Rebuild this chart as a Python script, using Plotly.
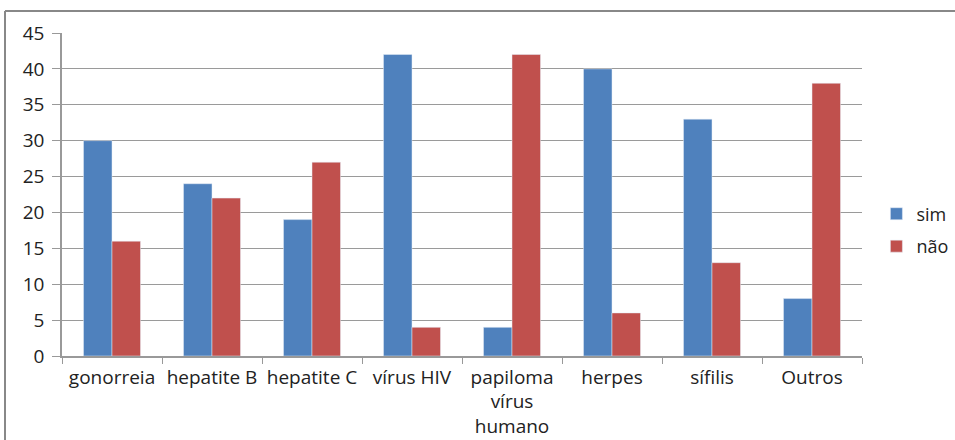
import plotly.graph_objects as go

categories = ["gonorreia", "hepatite B", "hepatite C", "vírus HIV",
              "papiloma<br>vírus<br>humano", "herpes", "sífilis", "Outros"]
sim = [30, 24, 19, 42, 4, 40, 33, 8]
nao = [16, 22, 27, 4, 42, 6, 13, 38]

fig = go.Figure()
fig.add_trace(go.Bar(name="sim", x=categories, y=sim, marker_color="#4F81BD", legendgroup="a"))
fig.add_trace(go.Bar(name="não", x=categories, y=nao, marker_color="#C0504D", legendgroup="b"))

font = dict(family="Open Sans, Liberation Sans, sans-serif", size=19, color="#222222")

fig.update_layout(
    width=955, height=440,
    margin=dict(l=62, r=93, t=33, b=84, autoexpand=False),
    paper_bgcolor="white", plot_bgcolor="white",
    barmode="group", bargap=0.43, bargroupgap=0,
    font=font,
    legend=dict(x=1.018, y=0.39, xanchor="left", yanchor="middle",
                font=dict(size=18), tracegroupgap=6, traceorder="grouped", itemwidth=30),
    xaxis=dict(showline=True, linecolor="#999999", linewidth=1.5,
               ticks="outside", tickson="boundaries", ticklen=6, tickcolor="#999999",
               showgrid=False, tickfont=font, ticklabelstandoff=3, automargin=False),
    yaxis=dict(range=[0, 45], dtick=5, showgrid=True, gridcolor="#9a9a9a", gridwidth=1,
               showline=True, linecolor="#999999", linewidth=1.5,
               ticks="outside", ticklen=8, tickcolor="#999999",
               zeroline=False, tickfont=font, ticklabelstandoff=4, automargin=False),
    shapes=[
        dict(type="line", xref="paper", yref="paper", x0=-0.07125, x1=1.2, y0=1.068, y1=1.068,
             line=dict(color="#888888", width=2)),
        dict(type="line", xref="paper", yref="paper", x0=-0.07125, x1=-0.07125, y0=1.068, y1=-0.4,
             line=dict(color="#888888", width=2)),
    ],
)

fig.write_html("out.html", config={"displayModeBar": False},
               post_script="document.body.style.margin='0';document.body.style.overflow='hidden';")
